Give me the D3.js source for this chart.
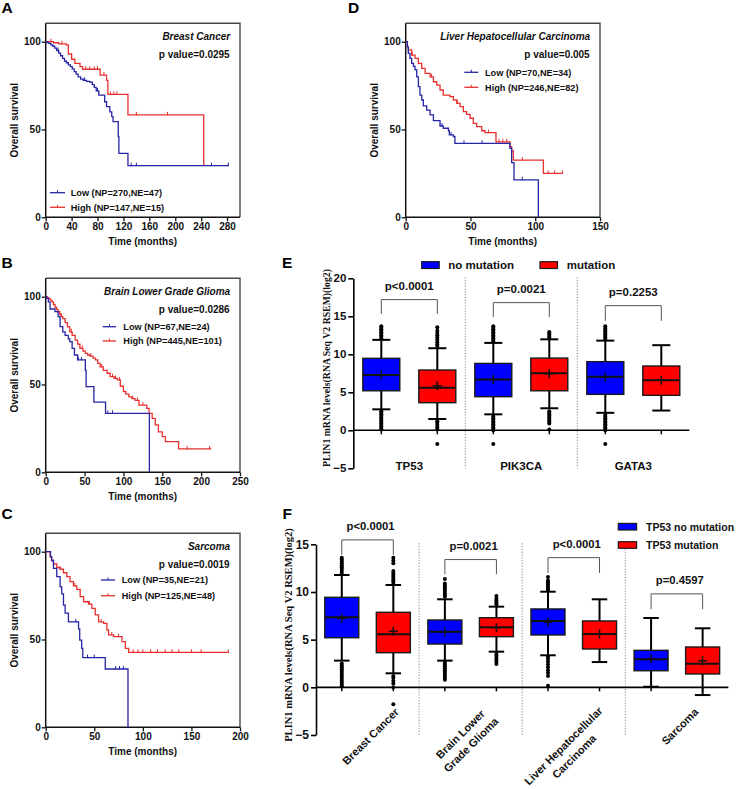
<!DOCTYPE html>
<html><head><meta charset="utf-8">
<script src="https://cdn.jsdelivr.net/npm/d3@7"></script>
<style>
html,body{margin:0;padding:0;background:#fff;}
svg{display:block;font-family:"Liberation Sans",Arial,sans-serif;}
</style></head><body>
<svg id="c" width="752" height="789"></svg>
<script>
// ================= DATA =================
// Kaplan-Meier panels: step times (months) and survival (%)
const kmA_lowT = [0,2,5,8,11,14,17,20,23,26,29,32,35,38,41,44,47,50,54,58,63,68,72,75,78,82,91,94,99,102,104,112,113,127];
const kmA_lowS = [100,99.5,99,98.2,97.4,96.3,95,93.5,92,90.5,89,88,86.8,85.8,84.5,83,81.5,80,78.7,78,77.4,77,75.5,74,72,69.6,65.8,63,60,57.3,54.5,46,36.4,29.4];
const kmA_lowEnd = 283;
const kmA_lowCens = [19,60,80,132,140,256,282];
const kmA_highT = [0,12,20,32,35,40,45,53,57,84,94,96,127,244];
const kmA_highS = [100,99.4,98.8,98,93,90,87.7,85.8,84.3,81,78,70,58.3,29.4];
const kmA_highEnd = 244;
const kmA_highCens = [8,25,62,68,75,80,90,100,105,110,140,188];

const kmB_lowT = [0,1,3.4,5.6,12,16,18.5,22,25,29,31,34,37,41,51,52,62,77,133.4];
const kmB_lowS = [100,99,97,93,91.5,88.6,83,80,78,76,74.4,70.6,66.8,64,58,48.8,40,33.6,0];
const kmB_lowEnd = 133.4;
const kmB_lowCens = [42,46,80,86];
const kmB_highT = [0,2,4,6,8,10,12,14,16,18,20,22,25,28,31,34,38,41,44,48,51,54,57,61,64,67,70,74,79,83,88,92,96,100,103,107,111,115,120,130,133,137,141,145,150,154,171];
const kmB_highS = [100,99.5,98.8,98,97,95.5,94,92.6,91.5,90,88.7,87.5,85.2,82.8,80,78,75.3,73,70.6,69,67.7,66.8,66.2,65,64,62,60,58,56.4,54.5,53.5,52.6,49,46,44.5,43,42,41,38.3,36.4,33.6,30.7,27,23,20.3,17.5,13.3];
const kmB_highEnd = 213;
const kmB_highCens = [20,33,47,58,72,86,90,95,112,118,125,182,211];

const kmC_lowT = [0,5,6.2,8,11.4,14.8,16.5,18.3,20,23.4,33.8,35,37,38.2,61.3,84.7];
const kmC_lowS = [100,97,95,90.5,85.8,80,76,69.6,65,60,56,49.7,45,39.7,33.2,0];
const kmC_lowEnd = 84.7;
const kmC_lowCens = [31,43,50,72,76,80];
const kmC_highT = [0,4.5,6,8,11.4,14.8,18.3,21.7,25,28.6,32,35.5,39,44,47.5,51,54.4,59.6,63,64.7,70,78.5,82,85.4];
const kmC_highS = [100,97,95,93,91,90,88,85.8,83,80.5,78.6,74.4,71.5,70.2,67.7,64,60,59.2,55.4,52.6,51.6,48.8,45,42.7];
const kmC_highEnd = 188.7;
const kmC_highCens = [15,30,45,57,68,75,90,95,100,108,115,123,130,137,150,160,188];

const kmD_lowT = [0,1.3,2,3.3,4.6,6,7.2,8.5,9.8,11,12.4,13.6,16.2,18.8,21.4,26.5,29,33,33.7,36.8,38,80.5,81.8,83.6,102.4];
const kmD_lowS = [100,97,93.4,90.5,87.7,86,84,80,74.4,69.6,66.8,63.4,61,58.3,55,52,50.7,49.3,46.9,46,42.1,39.3,31.1,21.3,0];
const kmD_lowEnd = 102.4;
const kmD_lowCens = [28,35,45,59,90];
const kmD_highT = [0,1.3,2,4.6,7.2,9.8,12.4,15,18.8,21.4,24,26.5,29,34.2,36.8,39.4,42,44.5,47,49.7,52.2,54.8,58.7,61.2,69.7,80.5,81.8,83.1,106.3];
const kmD_highS = [100,97,95.3,92.4,90.5,87.7,84.8,82,80,77.2,75.3,72.5,69.6,68.7,66.8,64.9,63,60.2,58.6,56.4,53.5,51.6,49.3,48.2,43,40.2,37.8,32.6,25];
const kmD_highEnd = 121;
const kmD_highCens = [5,20,40,64,72,75,78,90,110,115,121];

const kmTitles = ["Breast Cancer","Brain Lower Grade Glioma","Sarcoma","Liver Hepatocellular Carcinoma"];
const kmPvals = ["p value=0.0295","p value=0.0286","p value=0.0019","p value=0.005"];
const kmLowLabels = ["Low (NP=270,NE=47)","Low (NP=67,NE=24)","Low (NP=35,NE=21)","Low (NP=70,NE=34)"];
const kmHighLabels = ["High (NP=147,NE=15)","High (NP=445,NE=101)","High (NP=125,NE=48)","High (NP=246,NE=82)"];
const kmXTicksA = [0,40,80,120,160,200,240,280];
const kmXTicksB = [0,50,100,150,200,250];
const kmXTicksC = [0,50,100,150,200];
const kmXTicksD = [0,50,100,150];
const kmYTicks = [0,50,100];

// Box plot panel E: [lowWhisker, Q1, median, Q3, highWhisker, mean]
const eGenes = ["TP53","PIK3CA","GATA3"];
const eStatsNoMut = [[2.76,5.2,7.28,9.47,11.9,7.3],[2.1,4.42,6.7,8.8,11.5,6.7],[2.3,4.73,7.05,9.03,11.8,7.0]];
const eStatsMut = [[1.49,3.63,5.6,7.93,10.8,5.87],[2.9,5.2,7.5,9.5,11.97,7.45],[2.6,4.6,6.6,8.46,11.2,6.6]];
const eOutNoMut = [
  [12.1,12.3,12.5,12.7,12.9,13.1,13.3,13.5,13.7,0.1,0.3,0.5,0.7,0.9,1.1,1.3,1.5,1.7,1.9,2.1,2.3,2.5],
  [11.7,11.9,12.1,12.3,12.5,12.7,12.9,13.1,13.3,13.5,13.7,0.0,0.2,0.4,0.6,0.8,1.0,1.2,1.4,1.6,1.8,-1.8],
  [12.0,12.2,12.4,12.6,12.8,13.0,13.2,13.4,13.7,0.0,0.2,0.4,0.6,0.8,1.0,1.2,1.4,1.6,1.8,2.0,-1.8]];
const eOutMut = [
  [11.1,11.3,11.6,11.9,12.2,12.5,12.8,13.1,13.55,0.1,0.4,0.7,1.0,1.2,-1.8],
  [12.2,12.4,12.6,12.8,12.95,0.9,1.1,1.3,1.5,1.7,1.9,2.1,2.3,2.5,0.1],
  []];
const ePLabels = ["p<0.0001","p=0.0021","p=0.2253"];
const eBracketTop = [17.2,16.8,16.4];
const eBracketLeg = [15.3,14.9,14.4];
const eYTicks = [-5,0,5,10,15,20];
const eLegend = ["no mutation","mutation"];

// Box plot panel F
const fCancers = ["Breast Cancer","Brain Lower\nGrade Glioma","Liver Hepatocellular\nCarcinoma","Sarcoma"];
const fStatsNoMut = [[2.8,5.2,7.35,9.44,11.78,7.25],[2.8,4.54,5.83,7.06,9.23,5.8],[3.36,5.49,6.96,8.22,10.03,6.86],[0.06,1.74,2.94,3.88,7.27,3.0]];
const fStatsMut = [[1.47,3.63,5.56,7.87,10.73,5.87],[3.74,5.31,6.3,7.3,8.46,6.25],[2.65,4.02,5.59,6.96,9.23,5.59],[-0.81,1.4,2.48,4.23,6.19,2.79]];
const fOutNoMut = [
  [12.0,12.2,12.4,12.6,12.8,13.0,13.2,13.4,13.6,0.1,0.3,0.5,0.7,0.9,1.1,1.3,1.5,1.7,1.9,2.1,2.3,2.5],
  [9.5,9.7,9.9,10.1,10.3,10.5,10.7,10.9,11.36,0.8,1.0,1.2,1.4,1.6,1.8,2.0,2.2,2.4,2.6],
  [10.2,10.4,10.6,10.8,11.0,11.2,11.57,1.2,1.5,1.8,2.1,2.4,2.7,3.0,3.2,0.17],
  []];
const fOutMut = [
  [11.0,11.2,11.4,11.6,11.8,12.0,12.2,13.0,13.3,13.6,0.0,0.4,0.7,1.0,1.2,-1.78],
  [8.7,8.9,9.1,9.3,9.58,2.45,2.7,2.9,3.1,3.3,3.5],
  [],
  []];
const fPLabels = ["p<0.0001","p=0.0021","p<0.0001","p=0.4597"];
const fBracketTop = [15.46,13.4,13.6,9.8];
const fBracketLeg = [13.9,11.86,12.0,8.2];
const fYTicks = [-5,0,5,10,15];
const fLegend = ["TP53 no mutation","TP53 mutation"];

// ================= DRAWING =================
const svg = d3.select("#c");
const KM_BLUE = "#2525a5", KM_RED = "#e8312f";
const BOX_BLUE = "#0000ff", BOX_RED = "#ff0000";

function panelLetter(t, x, y){
  svg.append("text").attr("x",x).attr("y",y).attr("font-size",15.5).attr("font-weight","bold").text(t);
}

function stepPts(T,S,end){
  const p = T.map((t,i)=>[t,S[i]]);
  if (end > T[T.length-1]) p.push([end, S[S.length-1]]);
  return p;
}
function survAt(T,S,c){
  let v = S[0];
  for (let i=0;i<T.length;i++){ if (T[i] <= c) v = S[i]; }
  return v;
}

function drawKM(cfg){
  const W = 194.3, H = 194;
  const g = svg.append("g");
  const x = d3.scaleLinear().domain([0,cfg.xMax]).range([cfg.left, cfg.left+W]);
  const y = d3.scaleLinear().domain([0,100]).range([cfg.bottom, cfg.bottom-175.6]);
  g.append("path").attr("d",`M${cfg.left},${cfg.bottom-H}H${cfg.left+W}V${cfg.bottom}`)
    .attr("fill","none").attr("stroke","#4a4a4a").attr("stroke-width",1.4);
  const ax = g.append("g").attr("transform",`translate(0,${cfg.bottom})`)
    .call(d3.axisBottom(x).tickValues(cfg.xTicks).tickSize(4).tickSizeOuter(0).tickPadding(2));
  const ay = g.append("g").attr("transform",`translate(${cfg.left},0)`)
    .call(d3.axisLeft(y).tickValues(kmYTicks).tickSize(4).tickSizeOuter(0).tickPadding(1));
  ay.select(".domain").attr("d",`M0,${cfg.bottom-H}V${cfg.bottom}`);
  ax.select(".domain").attr("d",`M${cfg.left},0H${cfg.left+W}`);
  [ax,ay].forEach(a=>{
    a.selectAll(".domain").attr("stroke","#111").attr("stroke-width",1.5);
    a.selectAll(".tick line").attr("stroke","#111").attr("stroke-width",1.3);
    a.selectAll("text").attr("font-size",10).attr("font-weight","bold").attr("fill","#111")
      .attr("font-family",'"Liberation Sans",Arial,sans-serif');
  });
  const line = d3.line().x(d=>x(d[0])).y(d=>y(d[1])).curve(d3.curveStepAfter);
  const series = [
    {T:cfg.high.T,S:cfg.high.S,end:cfg.high.end,cens:cfg.high.cens,col:KM_RED},
    {T:cfg.low.T,S:cfg.low.S,end:cfg.low.end,cens:cfg.low.cens,col:KM_BLUE}
  ];
  series.forEach(s=>{
    g.append("path").datum(stepPts(s.T,s.S,s.end)).attr("d",line)
      .attr("fill","none").attr("stroke",s.col).attr("stroke-width",1.3);
    g.selectAll(null).data(s.cens).enter().append("line")
      .attr("x1",c=>x(c)).attr("x2",c=>x(c))
      .attr("y1",c=>y(survAt(s.T,s.S,c))-3).attr("y2",c=>y(survAt(s.T,s.S,c))+0.5)
      .attr("stroke",s.col).attr("stroke-width",1);
  });
  g.append("text").attr("x",cfg.left+97).attr("y",cfg.bottom+28).attr("text-anchor","middle")
    .attr("font-size",10).attr("font-weight","bold").attr("fill","#111").text("Time (months)");
  g.append("text").attr("transform",`translate(${cfg.left-28.2},${cfg.bottom-97}) rotate(-90)`)
    .attr("text-anchor","middle").attr("font-size",10).attr("font-weight","bold").attr("fill","#111").text("Overall survival");
  g.append("text").attr("x",cfg.left+184.5).attr("y",cfg.bottom-177).attr("text-anchor","end")
    .attr("font-size",10).attr("font-weight","bold").attr("font-style","italic").attr("fill","#111").text(cfg.title);
  g.append("text").attr("x",cfg.left+184).attr("y",cfg.bottom-159.5).attr("text-anchor","end")
    .attr("font-size",10).attr("font-weight","bold").attr("fill","#111").text(cfg.pval);
  const L = cfg.leg;
  [[cfg.lowLabel,KM_BLUE,L.y1],[cfg.highLabel,KM_RED,L.y2]].forEach(([t,c,yy])=>{
    g.append("line").attr("x1",cfg.left+L.x1).attr("x2",cfg.left+L.x2).attr("y1",yy).attr("y2",yy)
      .attr("stroke",c).attr("stroke-width",1.3);
    const mx = cfg.left+(L.x1+L.x2)/2;
    g.append("line").attr("x1",mx).attr("x2",mx).attr("y1",yy-2.5).attr("y2",yy).attr("stroke",c).attr("stroke-width",1);
    g.append("text").attr("x",cfg.left+L.tx).attr("y",yy+3.3).attr("font-size",9.2)
      .attr("font-weight","bold").attr("fill","#111").text(t);
  });
}

drawKM({left:45.7,bottom:217.3,xMax:300,xTicks:kmXTicksA,title:kmTitles[0],pval:kmPvals[0],
  low:{T:kmA_lowT,S:kmA_lowS,end:kmA_lowEnd,cens:kmA_lowCens},
  high:{T:kmA_highT,S:kmA_highS,end:kmA_highEnd,cens:kmA_highCens},
  lowLabel:kmLowLabels[0],highLabel:kmHighLabels[0],
  leg:{x1:4.3,x2:19.3,tx:25,y1:192.7,y2:207.3}});
drawKM({left:45.7,bottom:472.3,xMax:250,xTicks:kmXTicksB,title:kmTitles[1],pval:kmPvals[1],
  low:{T:kmB_lowT,S:kmB_lowS,end:kmB_lowEnd,cens:kmB_lowCens},
  high:{T:kmB_highT,S:kmB_highS,end:kmB_highEnd,cens:kmB_highCens},
  lowLabel:kmLowLabels[1],highLabel:kmHighLabels[1],
  leg:{x1:57,x2:70.3,tx:77.6,y1:326.7,y2:341}});
drawKM({left:45.7,bottom:727.3,xMax:200,xTicks:kmXTicksC,title:kmTitles[2],pval:kmPvals[2],
  low:{T:kmC_lowT,S:kmC_lowS,end:kmC_lowEnd,cens:kmC_lowCens},
  high:{T:kmC_highT,S:kmC_highS,end:kmC_highEnd,cens:kmC_highCens},
  lowLabel:kmLowLabels[2],highLabel:kmHighLabels[2],
  leg:{x1:55.3,x2:69.3,tx:76,y1:580,y2:595.7}});
drawKM({left:405.7,bottom:217.3,xMax:150,xTicks:kmXTicksD,title:kmTitles[3],pval:kmPvals[3],
  low:{T:kmD_lowT,S:kmD_lowS,end:kmD_lowEnd,cens:kmD_lowCens},
  high:{T:kmD_highT,S:kmD_highS,end:kmD_highEnd,cens:kmD_highCens},
  lowLabel:kmLowLabels[3],highLabel:kmHighLabels[3],
  leg:{x1:58.6,x2:72.6,tx:79.3,y1:72.3,y2:87.3}});

panelLetter("A",1.5,13);
panelLetter("B",1.5,268);
panelLetter("C",1.5,519);
panelLetter("D",348,13);
panelLetter("E",282,268);
panelLetter("F",282.5,519);

function drawBox(g, cx, st, fill, bw, cw, y, outs){
  const [lo,q1,md,q3,hi,mn] = st;
  g.append("line").attr("x1",cx).attr("x2",cx).attr("y1",y(hi)).attr("y2",y(lo)).attr("stroke","#000").attr("stroke-width",2);
  [hi,lo].forEach(v=>g.append("line").attr("x1",cx-cw/2).attr("x2",cx+cw/2).attr("y1",y(v)).attr("y2",y(v))
     .attr("stroke","#000").attr("stroke-width",2));
  g.append("rect").attr("x",cx-bw/2).attr("y",y(q3)).attr("width",bw).attr("height",y(q1)-y(q3))
    .attr("fill",fill).attr("stroke","#1a1a1a").attr("stroke-width",1.4);
  g.append("line").attr("x1",cx-bw/2).attr("x2",cx+bw/2).attr("y1",y(md)).attr("y2",y(md)).attr("stroke","#111").attr("stroke-width",2);
  g.append("path").attr("d",`M${cx-4.5},${y(mn)}H${cx+4.5}M${cx},${y(mn)-4.5}V${y(mn)+4.5}`).attr("stroke","#111").attr("stroke-width",1.5);
  g.selectAll(null).data(outs).enter().append("circle").attr("cx",cx).attr("cy",v=>y(v)).attr("r",2).attr("fill","#000");
}

function drawBoxPanel(cfg){
  const g = svg.append("g");
  const y = d3.scaleLinear().domain(cfg.yDom).range(cfg.yRange);
  const xb = d3.scaleBand().domain(cfg.cats).range([cfg.axisX, cfg.xEnd]).paddingInner(0).paddingOuter(0);
  const bwid = xb.bandwidth();
  cfg.cats.slice(1).forEach(c=>{
    g.append("line").attr("x1",xb(c)).attr("x2",xb(c)).attr("y1",cfg.yRange[1]-1).attr("y2",cfg.yRange[0])
      .attr("stroke","#777").attr("stroke-width",0.9).attr("stroke-dasharray","1.2,1.6");
  });
  const ay = g.append("g").attr("transform",`translate(${cfg.axisX},0)`)
    .call(d3.axisLeft(y).tickValues(cfg.yTicks).tickSize(5).tickSizeOuter(0).tickPadding(2));
  ay.select(".domain").attr("stroke","#000").attr("stroke-width",1.6);
  ay.selectAll(".tick line").attr("stroke","#000").attr("stroke-width",1.6);
  ay.selectAll("text").attr("font-size",cfg.tickFont).attr("font-weight","bold").attr("fill","#111")
    .attr("font-family",'"Liberation Sans",Arial,sans-serif');
  g.append("line").attr("x1",cfg.axisX).attr("x2",cfg.xEnd).attr("y1",y(0)).attr("y2",y(0)).attr("stroke","#000").attr("stroke-width",1.6);
  // y label, font sized so that its length matches the reference span
  const yl = g.append("text").attr("transform",`translate(${cfg.ylabX},${cfg.ylabCY}) rotate(-90)`)
    .attr("text-anchor","middle").attr("font-family",'"Liberation Serif","Times New Roman",serif')
    .attr("font-weight","bold").attr("font-size",10).attr("fill","#111")
    .text("PLIN1 mRNA levels(RNA Seq V2 RSEM)(log2)");
  const len10 = yl.node().getComputedTextLength();
  if (len10 > 0) yl.attr("font-size", Math.min(12, 10*cfg.ylabLen/len10));
  const pos = [0.25,0.75];
  cfg.cats.forEach((c,i)=>{
    const cxs = pos.map(p=>xb(c)+p*bwid);
    cxs.forEach(cx=>g.append("line").attr("x1",cx).attr("x2",cx).attr("y1",y(0)).attr("y2",y(0)+4).attr("stroke","#000").attr("stroke-width",1.5));
    drawBox(g,cxs[0],cfg.noMut[i],BOX_BLUE,cfg.boxW,cfg.capW,y,cfg.outNo[i]);
    drawBox(g,cxs[1],cfg.mut[i],BOX_RED,cfg.boxW,cfg.capW,y,cfg.outMut[i]);
    const yt = y(cfg.brTop[i]), ylg = y(cfg.brLeg[i]);
    g.append("path").attr("d",`M${cxs[0]},${ylg}V${yt}H${cxs[1]}V${ylg}`).attr("fill","none")
      .attr("stroke","#555").attr("stroke-width",1);
    g.append("text").attr("x",(cxs[0]+cxs[1])/2+cfg.pDx).attr("y",yt-cfg.pGap).attr("text-anchor","middle")
      .attr("font-size",cfg.pFont).attr("font-weight","bold").attr("fill","#111").text(cfg.pLabels[i]);
  });
  return {g,xb,y,bwid};
}

// Panel E
const E = drawBoxPanel({cats:eGenes,yDom:[-5,20],yRange:[468.3,278.3],axisX:353.3,xEnd:689.3,
  yTicks:eYTicks,tickFont:11.5,noMut:eStatsNoMut,mut:eStatsMut,outNo:eOutNoMut,outMut:eOutMut,
  boxW:37,capW:18,brTop:eBracketTop,brLeg:eBracketLeg,pLabels:ePLabels,pFont:11.5,pGap:9.5,pDx:0,
  ylabX:330,ylabCY:368,ylabLen:198});
eGenes.forEach(c=>{
  E.g.append("text").attr("x",E.xb(c)+E.bwid/2).attr("y",469.5).attr("text-anchor","middle")
    .attr("font-size",11.5).attr("font-weight","bold").attr("fill","#111").text(c);
});
[[eLegend[0],BOX_BLUE,421.7,448.3],[eLegend[1],BOX_RED,540,566.7]].forEach(([t,c,sx,tx])=>{
  E.g.append("rect").attr("x",sx).attr("y",261.7).attr("width",17.5).attr("height",6.8)
    .attr("fill",c).attr("stroke","#1a1a1a").attr("stroke-width",1.2);
  E.g.append("text").attr("x",tx).attr("y",269.3).attr("font-size",11.5).attr("font-weight","bold").attr("fill","#111").text(t);
});

// Panel F
const F = drawBoxPanel({cats:fCancers,yDom:[-5,15],yRange:[735,544.3],axisX:316,xEnd:728.4,
  yTicks:fYTicks,tickFont:12,noMut:fStatsNoMut,mut:fStatsMut,outNo:fOutNoMut,outMut:fOutMut,
  boxW:34,capW:15.5,brTop:fBracketTop,brLeg:fBracketLeg,pLabels:fPLabels,pFont:11.3,pGap:9.5,pDx:3,
  ylabX:292,ylabCY:635,ylabLen:214});
fCancers.forEach(c=>{
  const lines = c.split("\n");
  const gc = F.xb(c)+F.bwid/2;
  const tmp = lines.map(l=>F.g.append("text").attr("font-size",11).attr("font-weight","bold")
     .attr("fill","#111").attr("text-anchor","middle").text(l));
  const lens = tmp.map(t=>t.node().getComputedTextLength());
  const maxL = d3.max(lens);
  const n = lines.length;
  const bcx = gc + (n===1 ? 3 : -5);
  const bcy = 710 + maxL*0.354 + (n-1)*4;
  tmp.forEach((t,i)=>{
    const off = (i-(n-1)/2)*15*0.7071;
    t.attr("transform",`translate(${bcx+off},${bcy+off}) rotate(-45)`).attr("dy","0.35em");
  });
});
[[fLegend[0],BOX_BLUE,526.7],[fLegend[1],BOX_RED,545]].forEach(([t,c,yy])=>{
  F.g.append("rect").attr("x",618.3).attr("y",yy-3.3).attr("width",18.3).attr("height",6.6)
    .attr("fill",c).attr("stroke","#1a1a1a").attr("stroke-width",1.2);
  F.g.append("text").attr("x",646).attr("y",yy+3.8).attr("font-size",10.5).attr("font-weight","bold").attr("fill","#111").text(t);
});
</script>
</body></html>
